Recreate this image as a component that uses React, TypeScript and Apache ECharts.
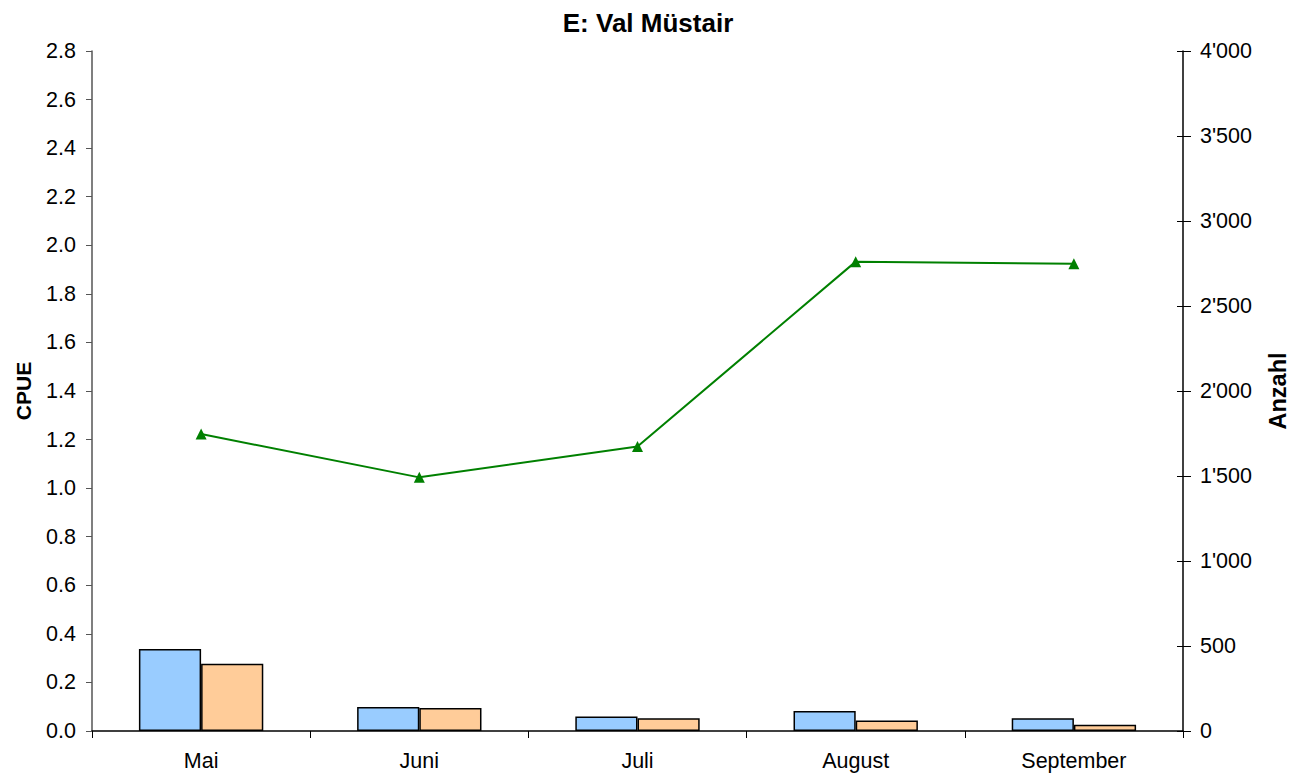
import React, { useEffect, useRef } from "react";
import * as echarts from "echarts";

const categories = ["Mai", "Juni", "Juli", "August", "September"];
const cpueBlue = [0.338, 0.099, 0.060, 0.082, 0.052];
const cpueOrange = [0.277, 0.095, 0.052, 0.043, 0.026];
const anzahl = [1747, 1492, 1673, 2761, 2749];
const titleText = "E: Val Müstair";
const leftName = "CPUE";
const rightName = "Anzahl";

const FONT = "'Liberation Sans', Arial, sans-serif";

function fmtThousands(v: number): string {
  const s = Math.round(v).toString();
  return s.replace(/\B(?=(\d{3})+(?!\d))/g, "'");
}

export default function App() {
  const ref = useRef<HTMLDivElement>(null);
  useEffect(() => {
    if (!ref.current) return;
    const chart = echarts.init(ref.current, undefined, { renderer: "svg" });
    const labelStyle = { color: "#000", fontSize: 21.5, fontFamily: FONT };
    chart.setOption({
      animation: false,
      backgroundColor: "#fff",
      title: {
        text: titleText,
        left: 648,
        textAlign: "center",
        top: 10,
        padding: 0,
        textStyle: { color: "#000", fontSize: 26, fontWeight: "bold", fontFamily: FONT },
      },
      grid: {
        left: 92,
        right: 109,
        top: 51,
        bottom: 42,
        containLabel: false,
        outerBoundsMode: "none",
      },
      xAxis: {
        type: "category",
        data: categories,
        boundaryGap: true,
        axisLine: { lineStyle: { color: "#000", width: 1.5 } },
        axisTick: { show: true, alignWithLabel: false, length: 7, lineStyle: { color: "#000", width: 1 } },
        axisLabel: { ...labelStyle, margin: 19 },
        splitLine: { show: false },
      },
      yAxis: [
        {
          type: "value",
          min: 0,
          max: 2.8,
          interval: 0.2,
          position: "left",
          name: leftName,
          nameLocation: "middle",
          nameRotate: 90,
          nameGap: 58,
          nameTextStyle: { color: "#000", fontSize: 21, fontWeight: "bold", fontFamily: FONT },
          axisLine: { show: true, lineStyle: { color: "#555", width: 1.5 } },
          axisTick: { show: true, length: 6, lineStyle: { color: "#555" } },
          axisLabel: { ...labelStyle, margin: 16, formatter: (v: number) => v.toFixed(1) },
          splitLine: { show: false },
        },
        {
          type: "value",
          min: 0,
          max: 4000,
          interval: 500,
          position: "right",
          name: rightName,
          nameLocation: "middle",
          nameRotate: 90,
          nameGap: 83,
          nameTextStyle: { color: "#000", fontSize: 23.5, fontWeight: "bold", fontFamily: FONT },
          axisLine: { show: true, lineStyle: { color: "#000", width: 1.5 } },
          axisTick: { show: true, length: 8, lineStyle: { color: "#000" } },
          axisLabel: { ...labelStyle, margin: 17, formatter: (v: number) => fmtThousands(v) },
          splitLine: { show: false },
        },
        {
          type: "value",
          min: 0,
          max: 4000,
          interval: 500,
          position: "right",
          offset: 0,
          axisLine: { show: false },
          axisTick: { show: true, inside: true, length: 6, lineStyle: { color: "#000" } },
          axisLabel: { show: false },
          splitLine: { show: false },
        },
      ],
      series: [
        {
          type: "bar",
          yAxisIndex: 0,
          data: cpueBlue,
          barGap: "0%",
          barCategoryGap: "43%",
          itemStyle: { color: "#99CCFF", borderColor: "#000", borderWidth: 1.5 },
        },
        {
          type: "bar",
          yAxisIndex: 0,
          data: cpueOrange,
          barGap: "0%",
          barCategoryGap: "43%",
          itemStyle: { color: "#FFCC99", borderColor: "#000", borderWidth: 1.5 },
        },
        {
          type: "line",
          yAxisIndex: 1,
          data: anzahl,
          symbol: "triangle",
          symbolSize: 11,
          lineStyle: { color: "#008000", width: 2 },
          itemStyle: { color: "#008000" },
        },
      ],
    });
    return () => chart.dispose();
  }, []);
  return (
    <div
      ref={ref}
      style={{ position: "fixed", left: 0, top: 0, width: 1292, height: 773, background: "#fff" }}
    />
  );
}
